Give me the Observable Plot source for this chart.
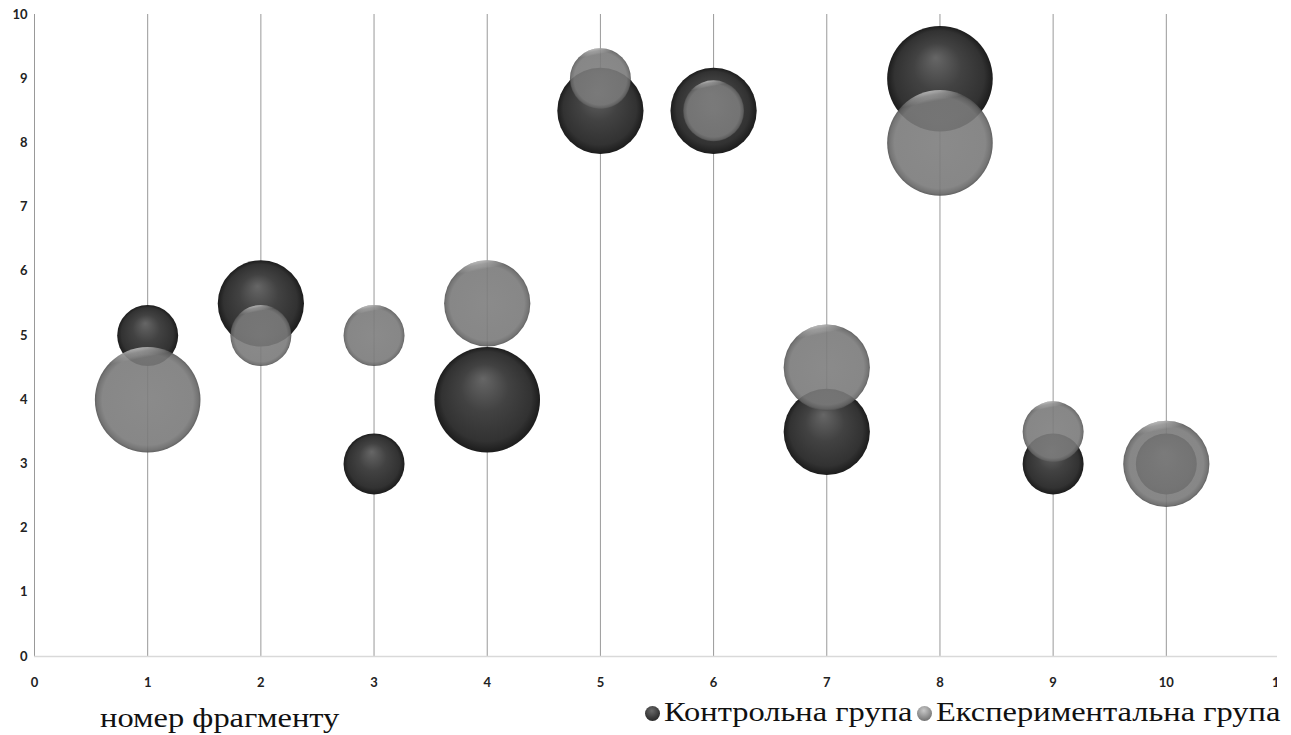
<!DOCTYPE html>
<html>
<head>
<meta charset="utf-8">
<script src="https://cdn.jsdelivr.net/npm/d3@7"></script>
<script src="https://cdn.jsdelivr.net/npm/@observablehq/plot@0.6"></script>
<style>
  html, body { margin: 0; padding: 0; background: #fff; }
  #page { position: relative; width: 1291px; height: 735px; overflow: hidden; }
  #chart { position: absolute; left: 0; top: 0; width: 1277px; overflow: hidden; }
  .caption { position: absolute; font-family: "Liberation Serif", "Times New Roman", serif; font-size: 28px; line-height: 1; color: #111; white-space: nowrap; }
  .wide { display: inline-block; transform-origin: left center; }
  #xtitle { left: 100px; top: 704px; }
  #legend { right: 11px; top: 698px; display: flex; align-items: center; }
  #legend .item { display: flex; align-items: center; }
  #legend .sw { flex: none; width: 15px; height: 15px; border-radius: 50%; margin-right: 4px; margin-left: 4px; margin-top: 2px; }
</style>
</head>
<body>
<svg width="0" height="0" style="position:absolute">
  <defs>
    <radialGradient id="ctrlGrad" cx="0.5" cy="0.5" r="0.5" fx="0.46" fy="0.3">
      <stop offset="0" stop-color="#666"/>
      <stop offset="0.45" stop-color="#424242"/>
      <stop offset="0.85" stop-color="#323232"/>
      <stop offset="1" stop-color="#1c1c1c"/>
    </radialGradient>
    <radialGradient id="expGrad" cx="0.5" cy="0.5" r="0.5">
      <stop offset="0" stop-color="#7e7e7e"/>
      <stop offset="0.86" stop-color="#7a7a7a"/>
      <stop offset="0.96" stop-color="#656565"/>
      <stop offset="1" stop-color="#505050"/>
    </radialGradient>
    <linearGradient id="shine" x1="0.3" y1="0" x2="0.5" y2="1">
      <stop offset="0" stop-color="#fff" stop-opacity="0.75"/>
      <stop offset="0.07" stop-color="#fff" stop-opacity="0.25"/>
      <stop offset="0.13" stop-color="#fff" stop-opacity="0"/>
    </linearGradient>
  </defs>
</svg>
<div id="page">
  <div id="chart"></div>
  <div id="xtitle" class="caption"></div>
  <div id="legend" class="caption"></div>
</div>
<script>
// Fragment numbers along the x axis
const fragments = [1, 2, 3, 4, 5, 6, 7, 8, 9, 10];

// Control group: score and bubble size per fragment
const controlY    = [5, 5.5, 3, 4, 8.5, 8.5, 3.5, 9, 3, 3];
const controlSize = [1, 2, 1, 3, 2, 2, 2, 3, 1, 1];

// Experimental group: score and bubble size per fragment
const experY    = [4, 5, 5, 5.5, 9, 8.5, 4.5, 8, 3.5, 3];
const experSize = [3, 1, 1, 2, 1, 1, 2, 3, 1, 2];

const seriesNames = ["Контрольна група", "Експериментальна група"];
const xTitle = "номер фрагменту";
const xTicks = [0, 1, 2, 3, 4, 5, 6, 7, 8, 9, 10, 11];
const yTicks = [0, 1, 2, 3, 4, 5, 6, 7, 8, 9, 10];

const control = fragments.map((f, i) => ({fragment: f, score: controlY[i], size: controlSize[i]}));
const exper = fragments.map((f, i) => ({fragment: f, score: experY[i], size: experSize[i]}));

const chart = Plot.plot({
  width: 1277,
  height: 695,
  marginTop: 14,
  marginBottom: 39,
  marginLeft: 34,
  marginRight: 0,
  x: {domain: [0, 11], range: [34, 1279]},
  y: {domain: [0, 10]},
  r: {type: "sqrt", domain: [0, 3], range: [0, 52.8]},
  style: {fontFamily: "Lato, 'Open Sans', sans-serif", fontSize: "13px", fontWeight: "bold", color: "#222", background: "white"},
  marks: [
    Plot.ruleX(xTicks.slice(0, 11), {stroke: "#999", strokeWidth: 1}),
    Plot.ruleY([0], {stroke: "#d9d9d9", strokeWidth: 1.5}),
    Plot.axisY({ticks: yTicks, tickSize: 0, tickPadding: 7, label: null}),
    Plot.axisX({ticks: xTicks, tickSize: 0, tickPadding: 21, label: null}),
    Plot.dot(control, {x: "fragment", y: "score", r: "size", fill: "url(#ctrlGrad)"}),
    Plot.dot(exper, {x: "fragment", y: "score", r: "size", fill: "url(#expGrad)", fillOpacity: 0.9}),
    Plot.dot(exper, {x: "fragment", y: "score", r: "size", fill: "url(#shine)"})
  ]
});
document.getElementById("chart").append(chart);

// Serif captions are drawn horizontally widened; the box width follows the stretch
const STRETCH = 1.16;
function widen(span) {
  const w = span.getBoundingClientRect().width;
  span.style.width = (w * STRETCH) + "px";
  span.style.transform = `scaleX(${STRETCH})`;
}

const titleSpan = document.createElement("span");
titleSpan.className = "wide";
titleSpan.textContent = xTitle;
document.getElementById("xtitle").append(titleSpan);
widen(titleSpan);

const swatches = [
  "radial-gradient(circle at 45% 32%, #6a6a6a 0%, #3a3a3a 55%, #1c1c1c 100%)",
  "radial-gradient(circle at 45% 30%, #c8c8c8 0%, #8c8c8c 55%, #5a5a5a 100%)"
];
const legend = document.getElementById("legend");
seriesNames.forEach((name, i) => {
  const item = document.createElement("div");
  item.className = "item";
  const sw = document.createElement("span");
  sw.className = "sw";
  sw.style.background = swatches[i];
  const label = document.createElement("span");
  label.className = "wide";
  label.textContent = name;
  item.append(sw, label);
  legend.append(item);
  widen(label);
});
</script>
</body>
</html>
